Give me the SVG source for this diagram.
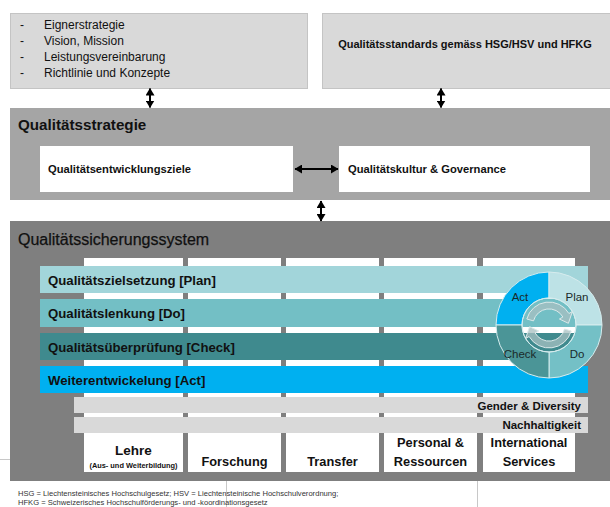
<svg xmlns="http://www.w3.org/2000/svg" width="610" height="507" viewBox="0 0 610 507">
<defs>
<marker id="ah" markerUnits="userSpaceOnUse" markerWidth="8" markerHeight="9" refX="7" refY="4.5" orient="auto-start-reverse">
<path d="M0,0 L7.5,4.5 L0,9 z" fill="#000"/>
</marker>
<style>
text{font-family:"Liberation Sans",Arial,sans-serif;fill:#111}
.b{font-weight:bold}
.top{fill:#d9d9d9;stroke:#c4c4c4;stroke-width:1}
.wbox{fill:#fff}
.col{fill:#fff}
.row{fill:#d9d9d9}
.conn{stroke:#000;stroke-width:2;fill:none;marker-start:url(#ah);marker-end:url(#ah)}
.fine{stroke:#c8c8c8;stroke-width:1;fill:none}
.q{stroke:#d6ecee;stroke-width:1}
.pdca{font-size:11.5px;fill:#1a2a2a}
.circ{fill:#a7bfc0;fill-opacity:0.75;stroke:#dbe9ea;stroke-width:1}
.foot{font-size:7.6px;fill:#333}
</style>
</defs>
<rect width="610" height="507" fill="#fff"/>

<g id="node-top-left">
<rect class="top" x="10.5" y="13.5" width="297" height="75"/>
<g font-size="12">
<text x="20" y="29">-</text><text x="44" y="29">Eignerstrategie</text>
<text x="20" y="45">-</text><text x="44" y="45">Vision, Mission</text>
<text x="20" y="61">-</text><text x="44" y="61">Leistungsvereinbarung</text>
<text x="20" y="77">-</text><text x="44" y="77">Richtlinie und Konzepte</text>
</g>
</g>

<g id="node-top-right">
<rect class="top" x="322.5" y="13.5" width="290" height="75"/>
<text class="b" x="465" y="48" font-size="11" text-anchor="middle">Qualitätsstandards gemäss HSG/HSV und HFKG</text>
</g>

<g id="node-strategie">
<rect x="10" y="108" width="600" height="92" fill="#a5a5a5"/>
<text class="b" x="18" y="130" font-size="15.2">Qualitätsstrategie</text>
</g>
<g id="node-entwicklungsziele">
<rect class="wbox" x="40" y="146" width="253" height="46"/>
<text class="b" x="48" y="173" font-size="11.2">Qualitätsentwicklungsziele</text>
</g>
<g id="node-kultur">
<rect class="wbox" x="339" y="146" width="251" height="46"/>
<text class="b" x="348" y="173" font-size="11.2">Qualitätskultur &amp; Governance</text>
</g>

<g id="node-sicherungssystem">
<rect x="10" y="221" width="600" height="260" fill="#7f7f7f"/>
<text x="18" y="245" font-size="16" fill="#0d0d0d" stroke="#0d0d0d" stroke-width="0.25">Qualitätssicherungssystem</text>
</g>

<g id="columns">
<rect class="col" x="84" y="258" width="99" height="214"/>
<rect class="col" x="188" y="258" width="93" height="214"/>
<rect class="col" x="286" y="258" width="93" height="214"/>
<rect class="col" x="384" y="258" width="93" height="214"/>
<rect class="col" x="483" y="258" width="92" height="214"/>
</g>

<g id="node-plan">
<rect x="40" y="266" width="548" height="27" fill="#a2d5da"/>
<text class="b" x="48" y="285" font-size="13.2">Qualitätszielsetzung [Plan]</text>
</g>
<g id="node-do">
<rect x="40" y="299" width="548" height="28" fill="#73bfc5"/>
<text class="b" x="48" y="318" font-size="13.2">Qualitätslenkung [Do]</text>
</g>
<g id="node-check">
<rect x="40" y="333" width="548" height="27" fill="#3f8a8e"/>
<text class="b" x="48" y="352" font-size="13.2">Qualitätsüberprüfung [Check]</text>
</g>
<g id="node-act">
<rect x="40" y="366" width="548" height="27" fill="#00b0f0"/>
<text class="b" x="48" y="385" font-size="13.2">Weiterentwickelung [Act]</text>
</g>

<g id="node-gender">
<rect class="row" x="74" y="397" width="514" height="16"/>
<text class="b" x="581" y="410" font-size="11.5" text-anchor="end">Gender &amp; Diversity</text>
</g>
<g id="node-nachhaltigkeit">
<rect class="row" x="74" y="417" width="514" height="16"/>
<text class="b" x="581" y="429" font-size="11.5" text-anchor="end">Nachhaltigkeit</text>
</g>

<g id="node-lehre">
<text class="b" x="133.5" y="455" font-size="13.5" text-anchor="middle">Lehre</text>
<text class="b" x="133.5" y="468" font-size="7.4" text-anchor="middle">(Aus- und Weiterbildung)</text>
</g>
<g id="node-forschung">
<text class="b" x="234.5" y="466" font-size="12.8" text-anchor="middle">Forschung</text>
</g>
<g id="node-transfer">
<text class="b" x="332.5" y="466" font-size="12.8" text-anchor="middle">Transfer</text>
</g>
<g id="node-personal">
<text class="b" x="430.5" y="447" font-size="12.8" text-anchor="middle">Personal &amp;</text>
<text class="b" x="430.5" y="466" font-size="12.8" text-anchor="middle">Ressourcen</text>
</g>
<g id="node-international">
<text class="b" x="529" y="447" font-size="12.8" text-anchor="middle">International</text>
<text class="b" x="529" y="466" font-size="12.8" text-anchor="middle">Services</text>
</g>

<g id="node-pdca">
<path class="q" d="M496,325 A53,53 0 0 1 549,272 L549,298 A27,27 0 0 0 522,325 Z" fill="#00b0f0"/>
<path class="q" d="M549,272 A53,53 0 0 1 602,325 L576,325 A27,27 0 0 0 549,298 Z" fill="#bde2e6"/>
<path class="q" d="M602,325 A53,53 0 0 1 549,378 L549,352 A27,27 0 0 0 576,325 Z" fill="#74c0c6"/>
<path class="q" d="M549,378 A53,53 0 0 1 496,325 L522,325 A27,27 0 0 0 549,352 Z" fill="#4b9597"/>
<circle cx="549" cy="325" r="27" fill="none" stroke="#d6ecee" stroke-width="1"/>
<path class="circ" d="M526.8,319 A23,23 0 0 1 568.9,313.5 L572.4,311.5 L568.4,323.3 L559.4,319 L562.9,317 A16,16 0 0 0 533.5,320.9 Z"/>
<path class="circ" d="M571.2,331 A23,23 0 0 1 529.1,336.5 L525.6,338.5 L529.6,326.7 L538.6,331 L535.1,333 A16,16 0 0 0 564.5,329.1 Z"/>
<text class="pdca" x="520" y="301" text-anchor="middle">Act</text>
<text class="pdca" x="577" y="301" text-anchor="middle">Plan</text>
<text class="pdca" x="520" y="358" text-anchor="middle">Check</text>
<text class="pdca" x="577" y="358" text-anchor="middle">Do</text>
</g>

<g id="connectors">
<line class="conn" x1="150" y1="88.5" x2="150" y2="107.5"/>
<line class="conn" x1="441" y1="88.5" x2="441" y2="107.5"/>
<line class="conn" x1="295" y1="169" x2="338" y2="169"/>
<line class="conn" x1="321" y1="201" x2="321" y2="221"/>
</g>

<g id="footnote">
<line class="fine" x1="0" y1="459.5" x2="10" y2="459.5"/>
<line class="fine" x1="226.5" y1="481" x2="226.5" y2="507"/>
<line class="fine" x1="477.5" y1="481" x2="477.5" y2="507"/>
<text class="foot" x="18" y="496">HSG = Liechtensteinisches Hochschulgesetz; HSV = Liechtensteinische Hochschulverordnung;</text>
<text class="foot" x="18" y="505">HFKG = Schweizerisches Hochschulförderungs- und -koordinationsgesetz</text>
</g>
</svg>
